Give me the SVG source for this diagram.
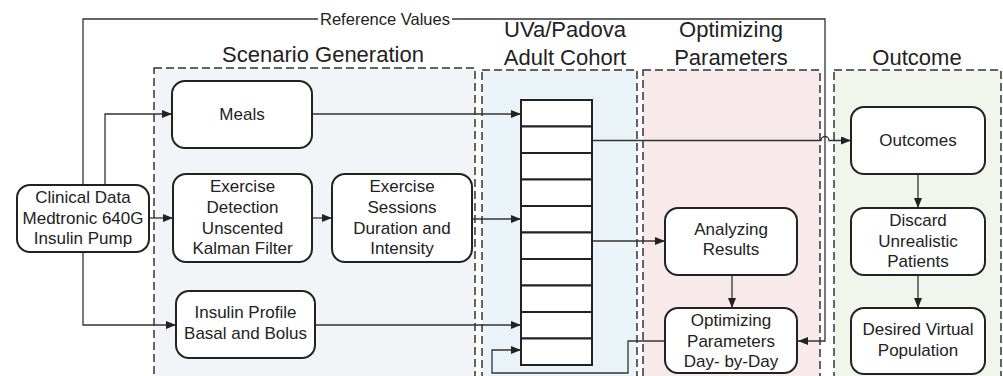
<svg xmlns="http://www.w3.org/2000/svg" width="1003" height="376" viewBox="0 0 1003 376">
  <style>
    .stage { stroke: #333; stroke-width: 1.5; stroke-dasharray: 8 4; }
    .title { font-family: "Liberation Sans", Arial, sans-serif; font-size: 22px; fill: #222; text-anchor: middle; }
    .box { fill: #fff; stroke: #222; stroke-width: 2; }
    .label { font-family: "Liberation Sans", Arial, sans-serif; font-size: 17px; fill: #222; text-anchor: middle; }
    .small { font-family: "Liberation Sans", Arial, sans-serif; font-size: 16.5px; fill: #222; text-anchor: middle; }
    .wire { fill: none; stroke: #333; stroke-width: 1.3; }
    .arrow { fill: none; stroke: #333; stroke-width: 1.3; marker-end: url(#head); }
    .cell { fill: #fff; stroke: #222; stroke-width: 2; }
  </style>
  <defs>
    <marker id="head" viewBox="0 0 10 8" refX="10" refY="4" markerWidth="11" markerHeight="8" markerUnits="userSpaceOnUse" orient="auto">
      <path d="M0,0 L10,4 L0,8 Z" fill="#222"/>
    </marker>
  </defs>

  <rect width="1003" height="376" fill="#fff"/>

  <!-- stage panels -->
  <g id="stage-scenario">
    <rect class="stage" x="154" y="68" width="321" height="330" fill="#f3f4f7"/>
    <text class="title" x="323" y="62">Scenario Generation</text>
  </g>
  <g id="stage-cohort">
    <rect class="stage" x="482" y="70" width="155" height="330" fill="#eaf4f8"/>
    <text class="title" x="565" y="37">UVa/Padova</text>
    <text class="title" x="565" y="65">Adult Cohort</text>
  </g>
  <g id="stage-optimizing">
    <rect class="stage" x="643" y="70" width="177" height="330" fill="#f8eaea"/>
    <text class="title" x="731" y="37">Optimizing</text>
    <text class="title" x="731" y="65">Parameters</text>
  </g>
  <g id="stage-outcome">
    <rect class="stage" x="834" y="70" width="167" height="330" fill="#f2f5ec"/>
    <text class="title" x="917" y="65">Outcome</text>
  </g>

  <!-- connectors -->
  <g id="connectors">
    <path class="wire" d="M83,185 V19 H318"/>
    <path class="arrow" d="M452,19 H825 V341 H798"/>
    <text class="small" x="385" y="24.5">Reference Values</text>
    <path class="arrow" d="M83,252 V325 H176"/>
    <path class="arrow" d="M105,185 V114 H172"/>
    <path class="arrow" d="M149,218 H173"/>
    <path class="arrow" d="M312,218 H332"/>
    <path class="arrow" d="M312,114 H521"/>
    <path class="arrow" d="M472,219 H521"/>
    <path class="arrow" d="M315,325 H521"/>
    <path class="arrow" d="M665,341 H628 V373 H492 V350 H521"/>
    <path class="arrow" d="M592,140.5 H821 A4,4 0 0 1 829,140.5 H851"/>
    <path class="arrow" d="M592,241 H665"/>
    <path class="arrow" d="M732,275 V308"/>
    <path class="arrow" d="M918,174 V208"/>
    <path class="arrow" d="M918,275 V308"/>
  </g>

  <!-- patient cohort stack -->
  <g id="cohort-stack">
    <rect class="cell" x="521" y="100" width="71" height="26.5"/>
    <rect class="cell" x="521" y="126.5" width="71" height="26.5"/>
    <rect class="cell" x="521" y="153" width="71" height="26.5"/>
    <rect class="cell" x="521" y="179.5" width="71" height="26.5"/>
    <rect class="cell" x="521" y="206" width="71" height="26.5"/>
    <rect class="cell" x="521" y="232.5" width="71" height="26.5"/>
    <rect class="cell" x="521" y="259" width="71" height="26.5"/>
    <rect class="cell" x="521" y="285.5" width="71" height="26.5"/>
    <rect class="cell" x="521" y="312" width="71" height="26.5"/>
    <rect class="cell" x="521" y="338.5" width="71" height="26.5"/>
  </g>

  <!-- nodes -->
  <g id="clinical-data">
    <rect class="box" x="17" y="185" width="132" height="67" rx="13"/>
    <text class="label" x="83" y="203">Clinical Data</text>
    <text class="label" x="83" y="223.5">Medtronic 640G</text>
    <text class="label" x="83" y="244">Insulin Pump</text>
  </g>
  <g id="meals">
    <rect class="box" x="172" y="81" width="140" height="67" rx="13"/>
    <text class="label" x="242" y="120">Meals</text>
  </g>
  <g id="exercise-detection">
    <rect class="box" x="173" y="174" width="139" height="88" rx="13"/>
    <text class="label" x="242.5" y="192">Exercise</text>
    <text class="label" x="242.5" y="213">Detection</text>
    <text class="label" x="242.5" y="233.5">Unscented</text>
    <text class="label" x="242.5" y="254">Kalman Filter</text>
  </g>
  <g id="exercise-sessions">
    <rect class="box" x="332" y="174" width="140" height="88" rx="13"/>
    <text class="label" x="402" y="192">Exercise</text>
    <text class="label" x="402" y="213">Sessions</text>
    <text class="label" x="402" y="233.5">Duration and</text>
    <text class="label" x="402" y="254">Intensity</text>
  </g>
  <g id="insulin-profile">
    <rect class="box" x="176" y="291" width="139" height="67" rx="13"/>
    <text class="label" x="245.5" y="318">Insulin Profile</text>
    <text class="label" x="245.5" y="339">Basal and Bolus</text>
  </g>
  <g id="analyzing-results">
    <rect class="box" x="665" y="208" width="132" height="67" rx="13"/>
    <text class="label" x="731" y="235">Analyzing</text>
    <text class="label" x="731" y="255">Results</text>
  </g>
  <g id="optimizing-parameters">
    <rect class="box" x="665" y="308" width="132" height="65" rx="13"/>
    <text class="label" x="731" y="326">Optimizing</text>
    <text class="label" x="731" y="346.5">Parameters</text>
    <text class="label" x="731" y="367">Day- by-Day</text>
  </g>
  <g id="outcomes">
    <rect class="box" x="851" y="107" width="134" height="67" rx="13"/>
    <text class="label" x="918" y="146">Outcomes</text>
  </g>
  <g id="discard-unrealistic">
    <rect class="box" x="851" y="208" width="134" height="67" rx="13"/>
    <text class="label" x="918" y="226">Discard</text>
    <text class="label" x="918" y="247">Unrealistic</text>
    <text class="label" x="918" y="267">Patients</text>
  </g>
  <g id="desired-population">
    <rect class="box" x="851" y="308" width="134" height="66" rx="13"/>
    <text class="label" x="918" y="335">Desired Virtual</text>
    <text class="label" x="918" y="356">Population</text>
  </g>
</svg>
